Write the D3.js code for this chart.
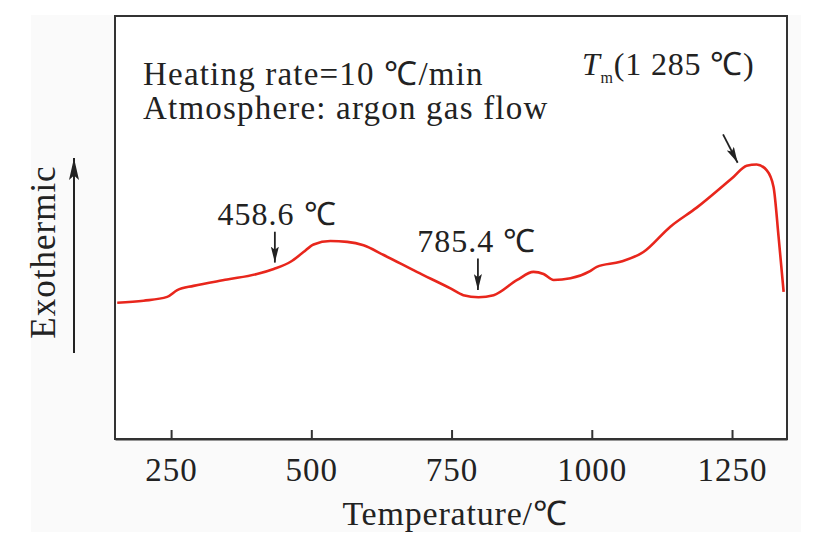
<!DOCTYPE html>
<html>
<head>
<meta charset="utf-8">
<script src="https://cdn.jsdelivr.net/npm/d3@7"></script>
<style>
  body { margin: 0; background: #fff; }
  text { font-family: "Liberation Serif", "Times New Roman", serif; fill: #222; }
</style>
</head>
<body>
<div class="chart"></div>
<script>
const w = 833;
const h = 540;
const margin = { top: 16, right: 46, bottom: 101, left: 115 };

// DSC curve (temperature in C, signal in arbitrary units)
const temps = [154, 201, 243, 261, 290, 350, 403, 433, 463, 486, 504, 534, 564, 593, 629, 688, 748, 771, 798, 825, 867, 896, 914, 932, 962, 997, 1009, 1051, 1092, 1140, 1187, 1253, 1276, 1294, 1312, 1324, 1333, 1342];
const signal = [3.22, 3.27, 3.36, 3.52, 3.62, 3.77, 3.90, 4.02, 4.19, 4.42, 4.60, 4.68, 4.66, 4.58, 4.35, 3.95, 3.56, 3.40, 3.35, 3.40, 3.76, 3.95, 3.90, 3.76, 3.80, 3.97, 4.07, 4.19, 4.42, 5.02, 5.47, 6.20, 6.46, 6.49, 6.35, 5.96, 4.78, 3.48];

const xTicks = [250, 500, 750, 1000, 1250];

// arrows: [x1, y1, x2, y2] in data units
const arrows = [
  [435, 4.90, 435, 4.17],
  [797, 4.27, 797, 3.52],
  [1234, 7.20, 1260, 6.53]
];
const peakLabels = ["458.6 ℃", "785.4 ℃"];
const peakLabelPos = [[439, 5.06], [795, 4.43]];
const notes = ["Heating rate=10 ℃/min", "Atmosphere: argon gas flow"];

const svg = d3.select(".chart").append("svg")
  .attr("width", w)
  .attr("height", h);

svg.append("rect")
  .attr("x", 31).attr("y", 15)
  .attr("width", 770).attr("height", 517)
  .attr("fill", "#fafafa");

const xScale = d3.scaleLinear()
  .domain([150, 1348])
  .range([margin.left, w - margin.right]);

const yScale = d3.scaleLinear()
  .domain([0, 10])
  .range([h - margin.bottom, margin.top]);

const defs = svg.append("defs");
function addHead(id, len, wid) {
  defs.append("marker")
    .attr("id", id)
    .attr("viewBox", `0 0 ${len} ${wid}`)
    .attr("refX", len).attr("refY", wid / 2)
    .attr("markerWidth", len).attr("markerHeight", wid)
    .attr("markerUnits", "userSpaceOnUse")
    .attr("orient", "auto")
    .append("path")
    .attr("d", `M0,0 L${len},${wid / 2} L0,${wid} L${len * 0.2},${wid / 2} Z`)
    .attr("fill", "#222");
}
addHead("head", 16, 8);
addHead("bighead", 22, 10);

// frame
svg.append("rect")
  .attr("x", margin.left)
  .attr("y", margin.top)
  .attr("width", w - margin.left - margin.right)
  .attr("height", h - margin.top - margin.bottom)
  .attr("fill", "#fff")
  .attr("stroke", "#333")
  .attr("stroke-width", 2);

// x axis, ticks pointing inward
const xAxis = d3.axisBottom(xScale)
  .tickValues(xTicks)
  .tickFormat(d3.format("d"))
  .tickSizeInner(-9)
  .tickSizeOuter(0)
  .tickPadding(19);

const gx = svg.append("g")
  .attr("transform", `translate(0, ${h - margin.bottom})`)
  .call(xAxis);
gx.select(".domain").attr("stroke", "#333").attr("stroke-width", 2);
gx.selectAll(".tick line").attr("stroke", "#333").attr("stroke-width", 2);
gx.selectAll(".tick text")
  .attr("font-size", 33)
  .attr("letter-spacing", 1)
  .attr("font-family", "Liberation Serif, serif")
  .attr("fill", "#222");

svg.append("text")
  .attr("x", 455)
  .attr("y", 525)
  .attr("text-anchor", "middle")
  .attr("font-size", 34)
  .attr("letter-spacing", 0.8)
  .text("Temperature/℃");

// y label with arrow
svg.append("text")
  .attr("transform", "translate(55, 252) rotate(-90)")
  .attr("text-anchor", "middle")
  .attr("font-size", 35)
  .attr("letter-spacing", 1)
  .text("Exothermic");

svg.append("line")
  .attr("x1", 74).attr("y1", 353)
  .attr("x2", 74).attr("y2", 158)
  .attr("stroke", "#222")
  .attr("stroke-width", 2)
  .attr("marker-end", "url(#bighead)");

// curve
const line = d3.line()
  .x((d, i) => xScale(temps[i]))
  .y((d) => yScale(d))
  .curve(d3.curveMonotoneX);

svg.append("path")
  .datum(signal)
  .attr("d", line)
  .attr("fill", "none")
  .attr("stroke", "#e8261c")
  .attr("stroke-width", 2.6);

// annotation arrows
svg.selectAll(".arrow")
  .data(arrows)
  .enter()
  .append("line")
  .attr("class", "arrow")
  .attr("x1", (d) => xScale(d[0]))
  .attr("y1", (d) => yScale(d[1]))
  .attr("x2", (d) => xScale(d[2]))
  .attr("y2", (d) => yScale(d[3]))
  .attr("stroke", "#222")
  .attr("stroke-width", 1.8)
  .attr("marker-end", "url(#head)");

svg.selectAll(".peak")
  .data(peakLabels)
  .enter()
  .append("text")
  .attr("class", "peak")
  .attr("x", (d, i) => xScale(peakLabelPos[i][0]))
  .attr("y", (d, i) => yScale(peakLabelPos[i][1]))
  .attr("text-anchor", "middle")
  .attr("font-size", 32)
  .attr("letter-spacing", 1)
  .text((d) => d);

// Tm label
const tm = svg.append("text")
  .attr("x", 582)
  .attr("y", 75)
  .attr("font-size", 32)
  .attr("letter-spacing", 0.8);
tm.append("tspan").attr("font-style", "italic").text("T");
tm.append("tspan").attr("font-size", 16).attr("dy", 8).text("m");
tm.append("tspan").attr("dy", -8).text("(1 285 ℃)");

// experiment notes
svg.selectAll(".note")
  .data(notes)
  .enter()
  .append("text")
  .attr("class", "note")
  .attr("x", 143)
  .attr("y", (d, i) => 85 + i * 34)
  .attr("font-size", 33)
  .attr("letter-spacing", 1.2)
  .text((d) => d);
</script>
</body>
</html>
